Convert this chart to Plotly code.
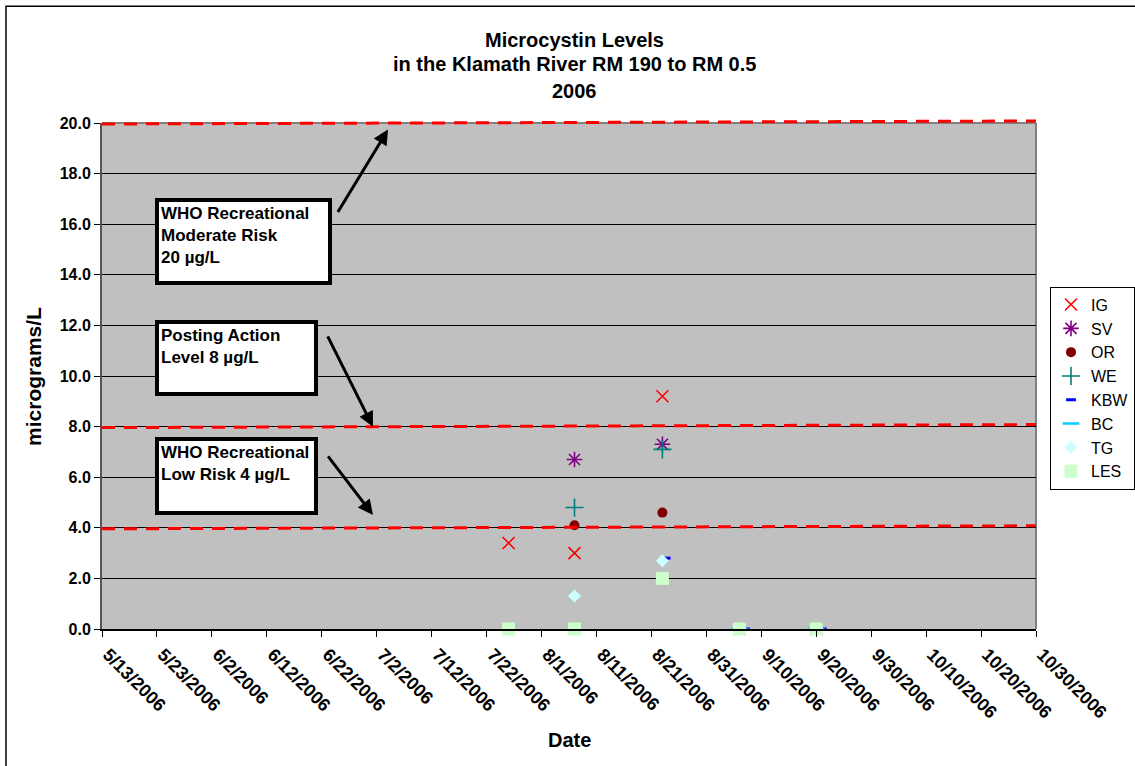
import plotly.graph_objects as go

# ---------------- data ----------------
tick_dates = ["2006-05-13", "2006-05-23", "2006-06-02", "2006-06-12", "2006-06-22",
              "2006-07-02", "2006-07-12", "2006-07-22", "2006-08-01", "2006-08-11",
              "2006-08-21", "2006-08-31", "2006-09-10", "2006-09-20", "2006-09-30",
              "2006-10-10", "2006-10-20", "2006-10-30"]
tick_labels = ["5/13/2006", "5/23/2006", "6/2/2006", "6/12/2006", "6/22/2006",
               "7/2/2006", "7/12/2006", "7/22/2006", "8/1/2006", "8/11/2006",
               "8/21/2006", "8/31/2006", "9/10/2006", "9/20/2006", "9/30/2006",
               "10/10/2006", "10/20/2006", "10/30/2006"]

ig_dates = ["2006-07-26", "2006-08-07", "2006-08-23", "2006-09-06", "2006-09-20"]
ig_vals = [3.4, 3.0, 9.2, 0.0, 0.0]
sv_dates = ["2006-08-07", "2006-08-23"]
sv_vals = [6.7, 7.3]
or_dates = ["2006-08-07", "2006-08-23"]
or_vals = [4.1, 4.6]
we_dates = ["2006-08-07", "2006-08-23"]
we_vals = [4.8, 7.1]
kbw_dates = ["2006-08-23 14:00", "2006-09-07", "2006-09-21"]
kbw_vals = [2.8, 0.0, 0.0]
bc_dates = ["2006-09-06", "2006-09-20"]
bc_vals = [0.0, 0.0]
tg_dates = ["2006-07-26", "2006-08-07", "2006-08-23", "2006-09-06", "2006-09-20"]
tg_vals = [0.0, 1.3, 2.7, 0.0, 0.0]
les_dates = ["2006-07-26", "2006-08-07", "2006-08-23", "2006-09-06", "2006-09-20"]
les_vals = [0.0, 0.0, 2.0, 0.0, 0.0]

threshold_vals = [20.0, 8.0, 4.0]
y_max = 20.0

FONT = "Liberation Sans, Arial, Helvetica, sans-serif"

fig = go.Figure()

def add(name, x, y, symbol, color, size, line_w=0, line_color=None):
    fig.add_trace(go.Scatter(
        x=x, y=y, mode="markers", name=name, cliponaxis=False,
        marker=dict(symbol=symbol, size=size, color=color,
                    line=dict(width=line_w, color=line_color or color)),
    ))

add("IG", ig_dates, ig_vals, "x-thin", "#FF0000", 12, 1.6)
add("SV", sv_dates, sv_vals, "asterisk", "#800080", 13, 1.6)
add("OR", or_dates, or_vals, "circle", "#800000", 10)
add("WE", we_dates, we_vals, "cross-thin", "#008080", 13, 1.6)
add("KBW", kbw_dates, kbw_vals, "line-ew", "#0000FF", 7, 3)
add("BC", bc_dates, bc_vals, "line-ew", "#00CCFF", 12, 2.5)
add("TG", tg_dates, tg_vals, "diamond", "#CCFFFF", 10)
add("LES", les_dates, les_vals, "square", "#CCFFCC", 13)

shapes = []
# threshold red dashed lines (slightly tilted as in the original drawing)
for v in threshold_vals:
    shapes.append(dict(type="line", xref="paper", yref="paper",
                       x0=0, x1=1, y0=(v - 0.04) / y_max, y1=(v + 0.08) / y_max,
                       line=dict(color="#FF0000", width=3, dash="13px,9px")))
# plot frame top/right in gray
shapes.append(dict(type="line", xref="paper", yref="paper", x0=0, x1=1, y0=1, y1=1,
                   line=dict(color="#808080", width=2), layer="below"))
shapes.append(dict(type="line", xref="paper", yref="paper", x0=1, x1=1, y0=0, y1=1,
                   line=dict(color="#808080", width=2), layer="below"))
# outer chart border
shapes.append(dict(type="rect", xref="paper", yref="paper",
                   x0=-0.1028, x1=1.2, y0=-0.4, y1=1.2305,
                   line=dict(color="black", width=1.5)))

annotations = []
# title lines
for txt, yy in [("Microcystin Levels", 1.165), ("in the Klamath River RM 190 to RM 0.5", 1.1167),
                ("2006", 1.0623)]:
    annotations.append(dict(text="<b>%s</b>" % txt, xref="paper", yref="paper",
                            x=0.5064, y=yy, xanchor="center", yanchor="middle",
                            showarrow=False, font=dict(family=FONT, size=20, color="black")))
# axis titles
annotations.append(dict(text="<b>micrograms/L</b>", xref="paper", yref="paper",
                        x=-0.0739, y=0.5, textangle=-90, xanchor="center", yanchor="middle",
                        showarrow=False, font=dict(family=FONT, size=21, color="black")))
annotations.append(dict(text="<b>Date</b>", xref="paper", yref="paper",
                        x=0.5, y=-0.2196, xanchor="center", yanchor="middle",
                        showarrow=False, font=dict(family=FONT, size=20, color="black")))

# text boxes
boxes = [
    ("WHO Recreational<br>Moderate Risk<br>20 µg/L", 0.0567, 0.851, 165, 75),
    ("Posting Action<br>Level 8 µg/L<br> ", 0.0567, 0.611, 151, 64),
    ("WHO Recreational<br>Low Risk 4 µg/L<br> ", 0.0567, 0.380, 151, 66),
]
for txt, xx, yy, w, h in boxes:
    annotations.append(dict(text="<b>%s</b>" % txt, xref="paper", yref="paper",
                            x=xx, y=yy, xanchor="left", yanchor="top", align="left",
                            valign="top", width=w, height=h, showarrow=False,
                            bgcolor="white", bordercolor="black", borderwidth=4, borderpad=2,
                            font=dict(family=FONT, size=17, color="black")))
# arrows
for hx, hy, ax, ay in [(0.3062, 0.987, -51, 84), (0.2901, 0.3996, -46, -92),
                       (0.2901, 0.2255, -46, -60)]:
    annotations.append(dict(text="", xref="paper", yref="paper", x=hx, y=hy, ax=ax, ay=ay,
                            showarrow=True, arrowhead=2, arrowsize=1, arrowwidth=3,
                            arrowcolor="black"))

fig.update_layout(
    width=1135, height=766,
    margin=dict(l=102, r=99, t=123, b=137, autoexpand=False),
    paper_bgcolor="white", plot_bgcolor="#C0C0C0",
    font=dict(family=FONT, color="black"),
    showlegend=True,
    legend=dict(x=1.0150, y=0.6766, xanchor="left", yanchor="top",
                bordercolor="black", borderwidth=1, bgcolor="white",
                font=dict(family=FONT, size=16, color="black"),
                itemwidth=30, tracegroupgap=0),
    shapes=shapes, annotations=annotations,
    xaxis=dict(type="date", range=["2006-05-13", "2006-10-30"],
               tickvals=tick_dates, ticktext=tick_labels, tickangle=45,
               ticks="outside", ticklen=6, tickcolor="black", ticklabelshift=6,
               tickfont=dict(family=FONT, size=18, color="black", weight="bold"),
               showgrid=False, showline=True, linecolor="black", linewidth=2,
               zeroline=False, automargin=False),
    yaxis=dict(range=[0, y_max], dtick=2, tickformat=".1f",
               ticks="outside", ticklen=6, tickcolor="black",
               tickfont=dict(family=FONT, size=16, color="black", weight="bold"),
               showgrid=True, gridcolor="black", gridwidth=1,
               showline=True, linecolor="#555555", linewidth=2, zeroline=False,
               automargin=False),
)

fig.write_html("out.html")
